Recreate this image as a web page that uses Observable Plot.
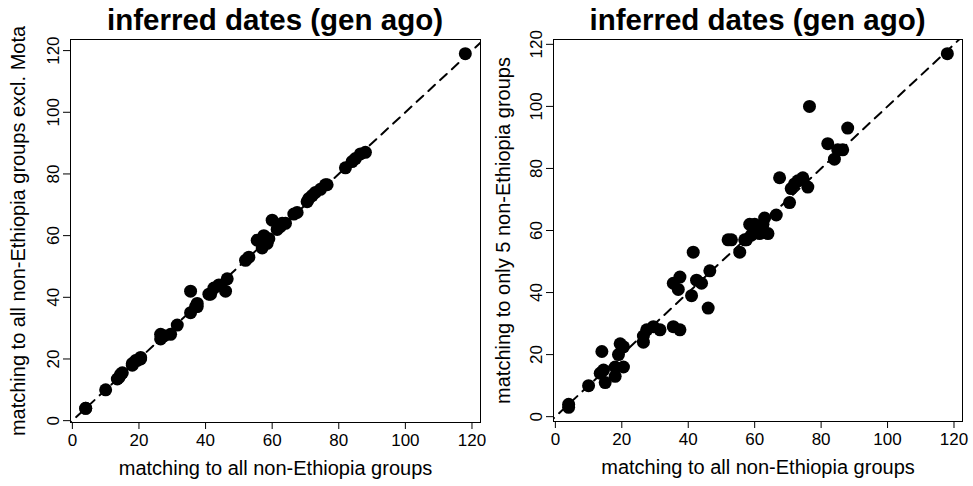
<!DOCTYPE html>
<html><head><meta charset="utf-8">
<script src="https://cdn.jsdelivr.net/npm/d3@7"></script>
<script src="https://cdn.jsdelivr.net/npm/@observablehq/plot@0.6"></script>
<style>
body{margin:0;background:#fff;font-family:"Liberation Sans",Arial,sans-serif;}
#wrap{position:relative;width:973px;height:486px;overflow:hidden;}
.panel{position:absolute;top:0;}
.title{position:absolute;top:0;font-weight:bold;font-size:29.5px;text-align:center;line-height:40px;color:#000;}
</style></head>
<body><div id="wrap"></div>
<script>
// x: matching to all non-Ethiopia groups (shared by both panels)
const xAll = [4, 4, 10, 13.5, 14, 14.5, 15, 18, 18, 19, 19.5, 20.5, 20.5, 26.5, 26.5, 27.5, 29.5, 31.5, 35.5, 37.5, 35.5, 37.5, 37, 41.5, 41, 42.5, 44, 46.5, 46, 52, 53, 55.5, 57, 57.5, 58.5, 59, 60, 61.5, 62.5, 63, 64, 66.5, 67.5, 70.5, 71, 72, 73, 74.5, 76, 76.5, 82, 84, 85, 86.5, 88, 118];
// left y: matching to all non-Ethiopia groups excl. Mota
const yExclMota = [4, 4, 10, 13.5, 14, 15, 15.5, 18, 18.5, 19.5, 19.5, 20.5, 20, 26.5, 28, 27.5, 28, 31, 35, 37, 42, 38, 37, 41, 41, 43, 44, 46, 42, 52, 53, 58.5, 56, 60, 57.5, 59, 65, 62, 63, 64, 64, 67, 67.5, 71, 72, 73, 74, 75, 76.5, 76.5, 82, 84, 85, 86.5, 87, 119];
// right y: matching to only 5 non-Ethiopia groups
const yOnly5 = [4, 3, 10, 14, 21, 15, 11, 13, 16, 20, 23.5, 22.5, 16, 24, 26, 28, 29, 28, 29, 28, 43, 45, 41, 53, 39, 44, 43, 47, 35, 57, 57, 53, 57, 57, 62, 58.5, 62, 59, 62, 64, 59, 65, 77, 69, 73.5, 75, 76, 77, 74, 100, 88, 83, 86, 86, 93, 117];
const ticks = [0, 20, 40, 60, 80, 100, 120];
const diagonal = [-20, 140];
const titleText = "inferred dates (gen ago)";
const xLabel = "matching to all non-Ethiopia groups";
const yLabelLeft = "matching to all non-Ethiopia groups excl. Mota";
const yLabelRight = "matching to only 5 non-Ethiopia groups";

function padDomain(v){
  const [a,b] = d3.extent(v); const p = (b-a)*0.04; return [a-p, b+p];
}

function panel(xs, ys, ylab, m){
  const data = xs.map((x,i)=>({x, y: ys[i]}));
  return Plot.plot({
    width: m.width, height: 486,
    marginLeft: m.left, marginRight: m.right, marginTop: 39, marginBottom: m.bottom,
    style: {fontFamily: '"Liberation Sans", Arial, sans-serif', color: "#000", background: "#fff", overflow: "visible"},
    x: {domain: padDomain(xs)},
    y: {domain: padDomain(ys)},
    marks: [
      Plot.frame({stroke: "#000", strokeWidth: 1, strokeOpacity: 1}),
      Plot.axisX(ticks, {tickSize: 7, tickPadding: 4, fontSize: 17, label: null, strokeWidth: 1}),
      Plot.axisY(ticks, {tickSize: 7, tickPadding: 5, fontSize: 17, label: null, tickRotate: -90, strokeWidth: 1}),
      Plot.line(diagonal, {x: d=>d, y: d=>d, stroke: "#000", strokeWidth: 2, strokeDasharray: "9,7", clip: true}),
      Plot.dot(data, {x: "x", y: "y", r: 6.5, fill: "#000", stroke: "none"}),
      Plot.text([xLabel], {text: d=>d, frameAnchor: "bottom", dy: 46, fontSize: 20, lineAnchor: "middle", textAnchor: "middle"}),
      Plot.text([ylab], {text: d=>d, frameAnchor: "left", dx: -m.ylabOff, rotate: -90, fontSize: 20, lineAnchor: "middle", textAnchor: "middle"})
    ]
  });
}

const wrap = document.getElementById("wrap");
const p1 = panel(xAll, yExclMota, yLabelLeft, {width: 486, left: 70, right: 6, bottom: 64, ylabOff: 52});
p1.classList.add("panel"); p1.style.left = "0px"; wrap.appendChild(p1);
const p2 = panel(xAll, yOnly5, yLabelRight, {width: 487, left: 67, right: 11, bottom: 65, ylabOff: 50});
p2.classList.add("panel"); p2.style.left = "486px"; wrap.appendChild(p2);

const t1 = document.createElement("div"); t1.className = "title"; t1.textContent = titleText;
t1.style.left = "70px"; t1.style.width = "410px"; wrap.appendChild(t1);
const t2 = document.createElement("div"); t2.className = "title"; t2.textContent = titleText;
t2.style.left = "553px"; t2.style.width = "409px"; wrap.appendChild(t2);
</script></body></html>
